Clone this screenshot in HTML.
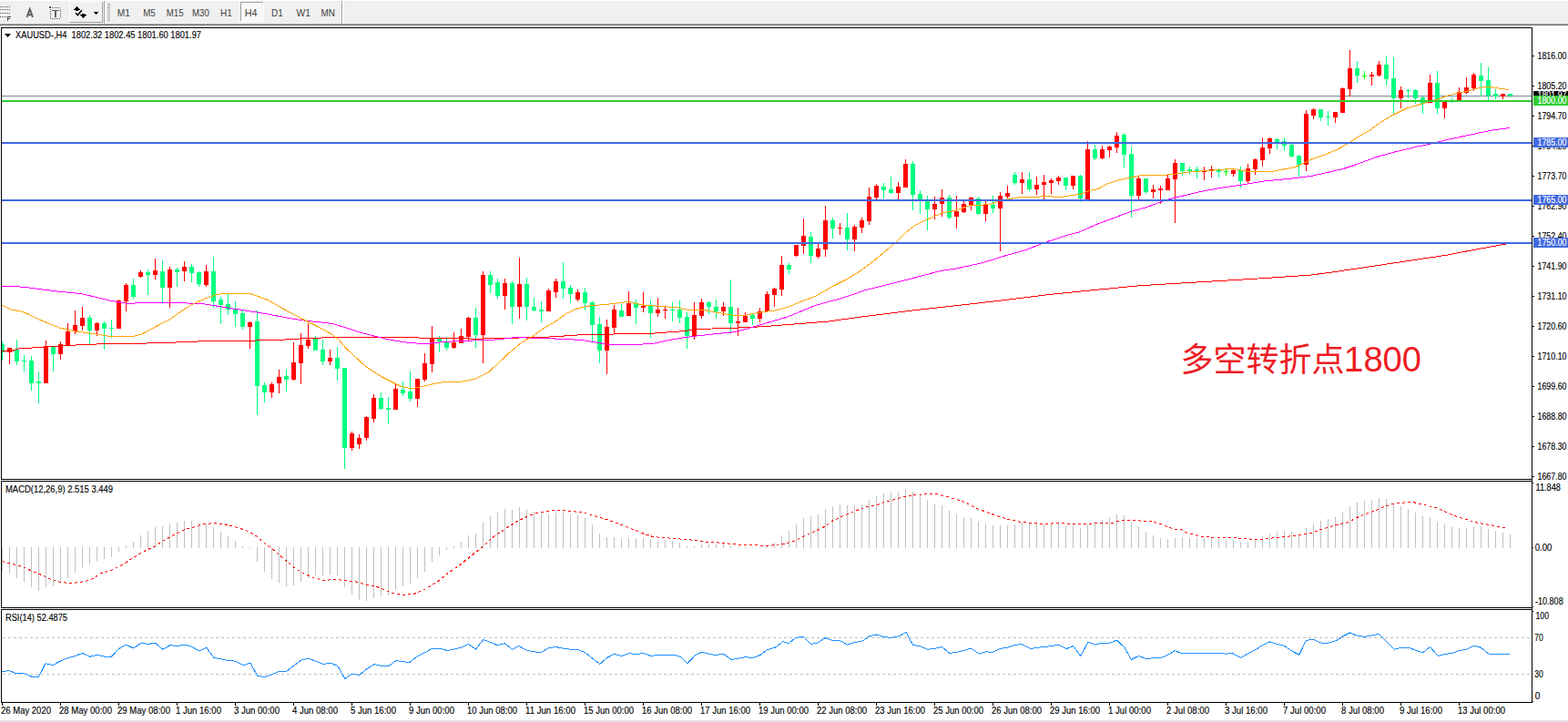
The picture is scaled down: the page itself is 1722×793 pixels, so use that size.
<!DOCTYPE html>
<html><head><meta charset="utf-8"><title>XAUUSD H4</title>
<style>html,body{margin:0;padding:0;background:#fff;}body{width:1722px;height:793px;overflow:hidden;}svg{display:block;}text{font-family:"Liberation Sans",sans-serif;stroke-width:0.14px;}</style>
</head><body>
<svg width="1722" height="793" viewBox="0 0 1722 793">
<rect x="0" y="0" width="1722" height="793" fill="#ffffff"/>
<g shape-rendering="crispEdges">
<rect x="0" y="1" width="1722" height="25" fill="#f0f0f0"/>
<rect x="0" y="26" width="1722" height="1" fill="#a9a9a9"/>
<rect x="0" y="27" width="1722" height="1" fill="#6b6b6b"/>
<rect x="0" y="7" width="1" height="1" fill="#555"/>
<rect x="2" y="7" width="1" height="1" fill="#555"/>
<rect x="4" y="7" width="1" height="1" fill="#555"/>
<rect x="6" y="7" width="1" height="1" fill="#555"/>
<rect x="8" y="7" width="1" height="1" fill="#555"/>
<rect x="10" y="7" width="1" height="1" fill="#555"/>
<rect x="0" y="10" width="1" height="1" fill="#555"/>
<rect x="2" y="10" width="1" height="1" fill="#555"/>
<rect x="4" y="10" width="1" height="1" fill="#555"/>
<rect x="6" y="10" width="1" height="1" fill="#555"/>
<rect x="8" y="10" width="1" height="1" fill="#555"/>
<rect x="10" y="10" width="1" height="1" fill="#555"/>
<rect x="0" y="14" width="1" height="1" fill="#555"/>
<rect x="2" y="14" width="1" height="1" fill="#555"/>
<rect x="4" y="14" width="1" height="1" fill="#555"/>
<rect x="6" y="14" width="1" height="1" fill="#555"/>
<rect x="8" y="14" width="1" height="1" fill="#555"/>
<rect x="10" y="14" width="1" height="1" fill="#555"/>
<rect x="0" y="18" width="1" height="1" fill="#555"/>
<rect x="2" y="18" width="1" height="1" fill="#555"/>
<rect x="4" y="18" width="1" height="1" fill="#555"/>
<rect x="6" y="18" width="1" height="1" fill="#555"/>
<path d="M8 18h4v1h-3v1h2v1h-2v2h-1z" fill="#4a4a4a"/>
<rect x="55" y="8" width="1" height="1" fill="#555"/>
<rect x="55" y="20" width="1" height="1" fill="#555"/>
<rect x="57" y="8" width="1" height="1" fill="#555"/>
<rect x="57" y="20" width="1" height="1" fill="#555"/>
<rect x="59" y="8" width="1" height="1" fill="#555"/>
<rect x="59" y="20" width="1" height="1" fill="#555"/>
<rect x="61" y="8" width="1" height="1" fill="#555"/>
<rect x="61" y="20" width="1" height="1" fill="#555"/>
<rect x="63" y="8" width="1" height="1" fill="#555"/>
<rect x="63" y="20" width="1" height="1" fill="#555"/>
<rect x="65" y="8" width="1" height="1" fill="#555"/>
<rect x="65" y="20" width="1" height="1" fill="#555"/>
<rect x="55" y="10" width="1" height="1" fill="#555"/>
<rect x="66" y="10" width="1" height="1" fill="#555"/>
<rect x="55" y="12" width="1" height="1" fill="#555"/>
<rect x="66" y="12" width="1" height="1" fill="#555"/>
<rect x="55" y="14" width="1" height="1" fill="#555"/>
<rect x="66" y="14" width="1" height="1" fill="#555"/>
<rect x="55" y="16" width="1" height="1" fill="#555"/>
<rect x="66" y="16" width="1" height="1" fill="#555"/>
<rect x="55" y="18" width="1" height="1" fill="#555"/>
<rect x="66" y="18" width="1" height="1" fill="#555"/>
<rect x="54" y="7" width="2" height="2" fill="#555"/>
<rect x="57" y="11" width="8" height="1" fill="#606060"/>
<rect x="60" y="11" width="2" height="8" fill="#606060"/>
<rect x="76" y="2" width="37" height="1" fill="#ffffff"/>
<rect x="76" y="2" width="1" height="23" fill="#ffffff"/>
<rect x="112" y="2" width="1" height="23" fill="#a0a0a0"/>
<rect x="76" y="24" width="37" height="1" fill="#a0a0a0"/>
<rect x="114" y="1" width="1" height="25" fill="#a0a0a0"/>
<rect x="115" y="1" width="1" height="25" fill="#ffffff"/>
<rect x="118" y="4" width="3" height="1" fill="#a6a6a6"/>
<rect x="118" y="6" width="3" height="1" fill="#a6a6a6"/>
<rect x="118" y="8" width="3" height="1" fill="#a6a6a6"/>
<rect x="118" y="10" width="3" height="1" fill="#a6a6a6"/>
<rect x="118" y="12" width="3" height="1" fill="#a6a6a6"/>
<rect x="118" y="14" width="3" height="1" fill="#a6a6a6"/>
<rect x="118" y="16" width="3" height="1" fill="#a6a6a6"/>
<rect x="118" y="18" width="3" height="1" fill="#a6a6a6"/>
<rect x="118" y="20" width="3" height="1" fill="#a6a6a6"/>
<rect x="118" y="22" width="3" height="1" fill="#a6a6a6"/>
<path d="M103 13h5v1h-1v1h-1v1h-1v-1h-1v-1h-1z" fill="#000"/>
<rect x="264" y="2" width="26" height="22" fill="#f8f8f8"/>
<rect x="264" y="2" width="26" height="1" fill="#a0a0a0"/>
<rect x="264" y="2" width="1" height="22" fill="#a0a0a0"/>
<rect x="289" y="2" width="1" height="22" fill="#ffffff"/>
<rect x="264" y="23" width="26" height="1" fill="#ffffff"/>
<rect x="375" y="1" width="1" height="25" fill="#a0a0a0"/>
<rect x="376" y="1" width="1" height="25" fill="#ffffff"/>
</g>
<g shape-rendering="crispEdges" fill="#000">
<rect x="84" y="7" width="1" height="1"/>
<rect x="83" y="8" width="3" height="1"/>
<rect x="82" y="9" width="5" height="1"/>
<rect x="81" y="10" width="7" height="1"/>
<rect x="83" y="11" width="3" height="1"/>
<rect x="90" y="15" width="3" height="1"/>
<rect x="88" y="16" width="7" height="1"/>
<rect x="89" y="17" width="5" height="1"/>
<rect x="90" y="18" width="3" height="1"/>
<rect x="91" y="19" width="1" height="1"/>
</g>
<path d="M83 14.3L85.4 16.6L89.8 11.3" fill="none" stroke="#000" stroke-width="1.5"/>
<path d="M29.5 18.9L32.75 10.1L36 18.9M30.6 16.2H34.9" fill="none" stroke="#606060" stroke-width="1.9"/>
<text x="128.8" y="17.8" font-size="10.4" fill="#404040" textLength="14.0" lengthAdjust="spacingAndGlyphs">M1</text>
<text x="157.2" y="17.8" font-size="10.4" fill="#404040" textLength="13.5" lengthAdjust="spacingAndGlyphs">M5</text>
<text x="182.8" y="17.8" font-size="10.4" fill="#404040" textLength="18.7" lengthAdjust="spacingAndGlyphs">M15</text>
<text x="211.0" y="17.8" font-size="10.4" fill="#404040" textLength="18.8" lengthAdjust="spacingAndGlyphs">M30</text>
<text x="242.0" y="17.8" font-size="10.4" fill="#404040" textLength="12.9" lengthAdjust="spacingAndGlyphs">H1</text>
<text x="268.8" y="17.8" font-size="10.4" fill="#404040" textLength="13.7" lengthAdjust="spacingAndGlyphs">H4</text>
<text x="298.1" y="17.8" font-size="10.4" fill="#404040" textLength="12.7" lengthAdjust="spacingAndGlyphs">D1</text>
<text x="325.5" y="17.8" font-size="10.4" fill="#404040" textLength="15.4" lengthAdjust="spacingAndGlyphs">W1</text>
<text x="352.5" y="17.8" font-size="10.4" fill="#404040" textLength="15.4" lengthAdjust="spacingAndGlyphs">MN</text>
<g shape-rendering="crispEdges" fill="none" stroke="#000" stroke-width="1">
<path d="M1.5 30.5H1682.5V526.5H1.5Z"/>
<path d="M1.5 528.5H1682.5V667.5H1.5Z"/>
<path d="M1.5 669.5H1682.5V771.5H1.5Z"/>
</g>
<rect x="0" y="791" width="1722" height="2" fill="#e3e3e3" shape-rendering="crispEdges"/>
<g shape-rendering="crispEdges">
<rect x="2" y="105" width="1680" height="1" fill="#778899"/>
<rect x="2" y="375" width="1" height="21" fill="#00FF7F"/>
<rect x="2" y="378" width="3" height="9" fill="#00FF7F"/>
<rect x="10" y="382" width="1" height="18" fill="#FF0000"/>
<rect x="8" y="382" width="5" height="5" fill="#FF0000"/>
<rect x="18" y="373" width="1" height="28" fill="#00FF7F"/>
<rect x="16" y="384" width="5" height="13" fill="#00FF7F"/>
<rect x="26" y="390" width="1" height="18" fill="#00FF7F"/>
<rect x="24" y="396" width="5" height="1" fill="#00FF7F"/>
<rect x="34" y="391" width="1" height="38" fill="#00FF7F"/>
<rect x="32" y="396" width="5" height="25" fill="#00FF7F"/>
<rect x="42" y="408" width="1" height="35" fill="#00FF7F"/>
<rect x="40" y="419" width="5" height="2" fill="#00FF7F"/>
<rect x="50" y="374" width="1" height="47" fill="#FF0000"/>
<rect x="48" y="380" width="5" height="41" fill="#FF0000"/>
<rect x="58" y="381" width="1" height="27" fill="#00FF7F"/>
<rect x="56" y="381" width="5" height="8" fill="#00FF7F"/>
<rect x="66" y="375" width="1" height="20" fill="#FF0000"/>
<rect x="64" y="378" width="5" height="11" fill="#FF0000"/>
<rect x="74" y="355" width="1" height="24" fill="#FF0000"/>
<rect x="72" y="364" width="5" height="15" fill="#FF0000"/>
<rect x="82" y="341" width="1" height="26" fill="#FF0000"/>
<rect x="80" y="357" width="5" height="7" fill="#FF0000"/>
<rect x="90" y="337" width="1" height="26" fill="#FF0000"/>
<rect x="88" y="349" width="5" height="9" fill="#FF0000"/>
<rect x="98" y="346" width="1" height="32" fill="#00FF7F"/>
<rect x="96" y="349" width="5" height="14" fill="#00FF7F"/>
<rect x="106" y="354" width="1" height="15" fill="#FF0000"/>
<rect x="104" y="355" width="5" height="8" fill="#FF0000"/>
<rect x="114" y="353" width="1" height="31" fill="#00FF7F"/>
<rect x="112" y="355" width="5" height="6" fill="#00FF7F"/>
<rect x="122" y="351" width="1" height="20" fill="#00FF7F"/>
<rect x="120" y="360" width="5" height="1" fill="#00FF7F"/>
<rect x="130" y="329" width="1" height="32" fill="#FF0000"/>
<rect x="128" y="330" width="5" height="31" fill="#FF0000"/>
<rect x="138" y="311" width="1" height="31" fill="#FF0000"/>
<rect x="136" y="313" width="5" height="18" fill="#FF0000"/>
<rect x="146" y="306" width="1" height="22" fill="#00FF7F"/>
<rect x="144" y="313" width="5" height="13" fill="#00FF7F"/>
<rect x="154" y="297" width="1" height="8" fill="#FF0000"/>
<rect x="152" y="299" width="5" height="5" fill="#FF0000"/>
<rect x="162" y="296" width="1" height="28" fill="#00FF7F"/>
<rect x="160" y="299" width="5" height="3" fill="#00FF7F"/>
<rect x="170" y="284" width="1" height="23" fill="#FF0000"/>
<rect x="168" y="297" width="5" height="5" fill="#FF0000"/>
<rect x="178" y="286" width="1" height="46" fill="#00FF7F"/>
<rect x="176" y="298" width="5" height="18" fill="#00FF7F"/>
<rect x="186" y="293" width="1" height="45" fill="#FF0000"/>
<rect x="184" y="296" width="5" height="20" fill="#FF0000"/>
<rect x="194" y="294" width="1" height="21" fill="#00FF7F"/>
<rect x="192" y="296" width="5" height="3" fill="#00FF7F"/>
<rect x="202" y="287" width="1" height="22" fill="#FF0000"/>
<rect x="200" y="293" width="5" height="5" fill="#FF0000"/>
<rect x="210" y="290" width="1" height="20" fill="#00FF7F"/>
<rect x="208" y="293" width="5" height="7" fill="#00FF7F"/>
<rect x="218" y="298" width="1" height="17" fill="#00FF7F"/>
<rect x="216" y="299" width="5" height="13" fill="#00FF7F"/>
<rect x="226" y="291" width="1" height="24" fill="#FF0000"/>
<rect x="224" y="298" width="5" height="15" fill="#FF0000"/>
<rect x="234" y="282" width="1" height="56" fill="#00FF7F"/>
<rect x="232" y="298" width="5" height="33" fill="#00FF7F"/>
<rect x="242" y="326" width="1" height="30" fill="#00FF7F"/>
<rect x="240" y="329" width="5" height="6" fill="#00FF7F"/>
<rect x="250" y="323" width="1" height="23" fill="#00FF7F"/>
<rect x="248" y="334" width="5" height="6" fill="#00FF7F"/>
<rect x="258" y="331" width="1" height="28" fill="#00FF7F"/>
<rect x="256" y="340" width="5" height="5" fill="#00FF7F"/>
<rect x="266" y="341" width="1" height="21" fill="#00FF7F"/>
<rect x="264" y="344" width="5" height="15" fill="#00FF7F"/>
<rect x="274" y="353" width="1" height="30" fill="#FF0000"/>
<rect x="272" y="354" width="5" height="5" fill="#FF0000"/>
<rect x="282" y="341" width="1" height="115" fill="#00FF7F"/>
<rect x="280" y="353" width="5" height="71" fill="#00FF7F"/>
<rect x="290" y="420" width="1" height="22" fill="#00FF7F"/>
<rect x="288" y="423" width="5" height="8" fill="#00FF7F"/>
<rect x="298" y="420" width="1" height="17" fill="#FF0000"/>
<rect x="296" y="422" width="5" height="9" fill="#FF0000"/>
<rect x="306" y="406" width="1" height="26" fill="#FF0000"/>
<rect x="304" y="414" width="5" height="7" fill="#FF0000"/>
<rect x="314" y="406" width="1" height="24" fill="#00FF7F"/>
<rect x="312" y="413" width="5" height="4" fill="#00FF7F"/>
<rect x="322" y="376" width="1" height="42" fill="#FF0000"/>
<rect x="320" y="398" width="5" height="19" fill="#FF0000"/>
<rect x="330" y="366" width="1" height="56" fill="#FF0000"/>
<rect x="328" y="379" width="5" height="20" fill="#FF0000"/>
<rect x="338" y="355" width="1" height="28" fill="#FF0000"/>
<rect x="336" y="373" width="5" height="7" fill="#FF0000"/>
<rect x="346" y="369" width="1" height="16" fill="#00FF7F"/>
<rect x="344" y="372" width="5" height="13" fill="#00FF7F"/>
<rect x="354" y="373" width="1" height="28" fill="#00FF7F"/>
<rect x="352" y="384" width="5" height="13" fill="#00FF7F"/>
<rect x="362" y="384" width="1" height="17" fill="#FF0000"/>
<rect x="360" y="393" width="5" height="4" fill="#FF0000"/>
<rect x="370" y="381" width="1" height="37" fill="#00FF7F"/>
<rect x="368" y="393" width="5" height="12" fill="#00FF7F"/>
<rect x="378" y="404" width="1" height="111" fill="#00FF7F"/>
<rect x="376" y="404" width="5" height="88" fill="#00FF7F"/>
<rect x="386" y="474" width="1" height="21" fill="#FF0000"/>
<rect x="384" y="476" width="5" height="16" fill="#FF0000"/>
<rect x="394" y="477" width="1" height="16" fill="#FF0000"/>
<rect x="392" y="481" width="5" height="7" fill="#FF0000"/>
<rect x="402" y="457" width="1" height="27" fill="#FF0000"/>
<rect x="400" y="458" width="5" height="23" fill="#FF0000"/>
<rect x="410" y="433" width="1" height="31" fill="#FF0000"/>
<rect x="408" y="437" width="5" height="23" fill="#FF0000"/>
<rect x="418" y="431" width="1" height="19" fill="#00FF7F"/>
<rect x="416" y="437" width="5" height="12" fill="#00FF7F"/>
<rect x="426" y="436" width="1" height="30" fill="#00FF7F"/>
<rect x="424" y="448" width="5" height="2" fill="#00FF7F"/>
<rect x="434" y="422" width="1" height="28" fill="#FF0000"/>
<rect x="432" y="427" width="5" height="23" fill="#FF0000"/>
<rect x="442" y="419" width="1" height="16" fill="#00FF7F"/>
<rect x="440" y="428" width="5" height="4" fill="#00FF7F"/>
<rect x="450" y="408" width="1" height="33" fill="#00FF7F"/>
<rect x="448" y="430" width="5" height="8" fill="#00FF7F"/>
<rect x="458" y="416" width="1" height="31" fill="#FF0000"/>
<rect x="456" y="416" width="5" height="22" fill="#FF0000"/>
<rect x="466" y="388" width="1" height="31" fill="#FF0000"/>
<rect x="464" y="399" width="5" height="18" fill="#FF0000"/>
<rect x="474" y="358" width="1" height="51" fill="#FF0000"/>
<rect x="472" y="372" width="5" height="28" fill="#FF0000"/>
<rect x="482" y="369" width="1" height="18" fill="#00FF7F"/>
<rect x="480" y="372" width="5" height="3" fill="#00FF7F"/>
<rect x="490" y="370" width="1" height="15" fill="#00FF7F"/>
<rect x="488" y="376" width="5" height="6" fill="#00FF7F"/>
<rect x="498" y="365" width="1" height="18" fill="#FF0000"/>
<rect x="496" y="376" width="5" height="6" fill="#FF0000"/>
<rect x="506" y="361" width="1" height="16" fill="#FF0000"/>
<rect x="504" y="369" width="5" height="8" fill="#FF0000"/>
<rect x="514" y="348" width="1" height="26" fill="#FF0000"/>
<rect x="512" y="349" width="5" height="21" fill="#FF0000"/>
<rect x="522" y="338" width="1" height="44" fill="#00FF7F"/>
<rect x="520" y="349" width="5" height="19" fill="#00FF7F"/>
<rect x="530" y="298" width="1" height="101" fill="#FF0000"/>
<rect x="528" y="302" width="5" height="66" fill="#FF0000"/>
<rect x="538" y="298" width="1" height="24" fill="#00FF7F"/>
<rect x="536" y="302" width="5" height="11" fill="#00FF7F"/>
<rect x="546" y="306" width="1" height="22" fill="#00FF7F"/>
<rect x="544" y="310" width="5" height="15" fill="#00FF7F"/>
<rect x="554" y="306" width="1" height="34" fill="#FF0000"/>
<rect x="552" y="311" width="5" height="14" fill="#FF0000"/>
<rect x="562" y="309" width="1" height="47" fill="#00FF7F"/>
<rect x="560" y="311" width="5" height="26" fill="#00FF7F"/>
<rect x="570" y="283" width="1" height="67" fill="#FF0000"/>
<rect x="568" y="312" width="5" height="25" fill="#FF0000"/>
<rect x="578" y="305" width="1" height="47" fill="#00FF7F"/>
<rect x="576" y="312" width="5" height="25" fill="#00FF7F"/>
<rect x="586" y="327" width="1" height="15" fill="#00FF7F"/>
<rect x="584" y="337" width="5" height="4" fill="#00FF7F"/>
<rect x="594" y="331" width="1" height="23" fill="#00FF7F"/>
<rect x="592" y="340" width="5" height="2" fill="#00FF7F"/>
<rect x="602" y="317" width="1" height="25" fill="#FF0000"/>
<rect x="600" y="319" width="5" height="23" fill="#FF0000"/>
<rect x="610" y="306" width="1" height="21" fill="#FF0000"/>
<rect x="608" y="309" width="5" height="12" fill="#FF0000"/>
<rect x="618" y="288" width="1" height="40" fill="#00FF7F"/>
<rect x="616" y="309" width="5" height="8" fill="#00FF7F"/>
<rect x="626" y="313" width="1" height="20" fill="#00FF7F"/>
<rect x="624" y="316" width="5" height="7" fill="#00FF7F"/>
<rect x="634" y="318" width="1" height="13" fill="#FF0000"/>
<rect x="632" y="321" width="5" height="8" fill="#FF0000"/>
<rect x="642" y="316" width="1" height="25" fill="#00FF7F"/>
<rect x="640" y="321" width="5" height="12" fill="#00FF7F"/>
<rect x="650" y="331" width="1" height="44" fill="#00FF7F"/>
<rect x="648" y="332" width="5" height="25" fill="#00FF7F"/>
<rect x="658" y="348" width="1" height="51" fill="#00FF7F"/>
<rect x="656" y="356" width="5" height="29" fill="#00FF7F"/>
<rect x="666" y="351" width="1" height="60" fill="#FF0000"/>
<rect x="664" y="359" width="5" height="26" fill="#FF0000"/>
<rect x="674" y="335" width="1" height="32" fill="#FF0000"/>
<rect x="672" y="340" width="5" height="20" fill="#FF0000"/>
<rect x="682" y="334" width="1" height="14" fill="#00FF7F"/>
<rect x="680" y="341" width="5" height="7" fill="#00FF7F"/>
<rect x="690" y="320" width="1" height="27" fill="#FF0000"/>
<rect x="688" y="333" width="5" height="14" fill="#FF0000"/>
<rect x="698" y="329" width="1" height="27" fill="#00FF7F"/>
<rect x="696" y="333" width="5" height="5" fill="#00FF7F"/>
<rect x="706" y="321" width="1" height="22" fill="#FF0000"/>
<rect x="704" y="336" width="5" height="2" fill="#FF0000"/>
<rect x="714" y="329" width="1" height="42" fill="#00FF7F"/>
<rect x="712" y="335" width="5" height="9" fill="#00FF7F"/>
<rect x="722" y="327" width="1" height="21" fill="#FF0000"/>
<rect x="720" y="340" width="5" height="4" fill="#FF0000"/>
<rect x="730" y="336" width="1" height="14" fill="#FF0000"/>
<rect x="728" y="340" width="5" height="1" fill="#FF0000"/>
<rect x="738" y="332" width="1" height="21" fill="#00FF7F"/>
<rect x="736" y="340" width="5" height="1" fill="#00FF7F"/>
<rect x="746" y="330" width="1" height="25" fill="#00FF7F"/>
<rect x="744" y="340" width="5" height="9" fill="#00FF7F"/>
<rect x="754" y="343" width="1" height="40" fill="#00FF7F"/>
<rect x="752" y="348" width="5" height="21" fill="#00FF7F"/>
<rect x="762" y="332" width="1" height="41" fill="#FF0000"/>
<rect x="760" y="346" width="5" height="23" fill="#FF0000"/>
<rect x="770" y="328" width="1" height="22" fill="#FF0000"/>
<rect x="768" y="332" width="5" height="15" fill="#FF0000"/>
<rect x="778" y="331" width="1" height="14" fill="#00FF7F"/>
<rect x="776" y="332" width="5" height="5" fill="#00FF7F"/>
<rect x="786" y="329" width="1" height="21" fill="#00FF7F"/>
<rect x="784" y="337" width="5" height="5" fill="#00FF7F"/>
<rect x="794" y="332" width="1" height="15" fill="#FF0000"/>
<rect x="792" y="337" width="5" height="5" fill="#FF0000"/>
<rect x="802" y="307" width="1" height="58" fill="#00FF7F"/>
<rect x="800" y="337" width="5" height="18" fill="#00FF7F"/>
<rect x="810" y="338" width="1" height="31" fill="#FF0000"/>
<rect x="808" y="353" width="5" height="2" fill="#FF0000"/>
<rect x="818" y="343" width="1" height="11" fill="#FF0000"/>
<rect x="816" y="347" width="5" height="7" fill="#FF0000"/>
<rect x="826" y="345" width="1" height="12" fill="#00FF7F"/>
<rect x="824" y="346" width="5" height="4" fill="#00FF7F"/>
<rect x="834" y="338" width="1" height="16" fill="#FF0000"/>
<rect x="832" y="342" width="5" height="8" fill="#FF0000"/>
<rect x="842" y="320" width="1" height="22" fill="#FF0000"/>
<rect x="840" y="323" width="5" height="19" fill="#FF0000"/>
<rect x="850" y="316" width="1" height="21" fill="#FF0000"/>
<rect x="848" y="317" width="5" height="7" fill="#FF0000"/>
<rect x="858" y="281" width="1" height="44" fill="#FF0000"/>
<rect x="856" y="291" width="5" height="27" fill="#FF0000"/>
<rect x="866" y="289" width="1" height="12" fill="#00FF7F"/>
<rect x="864" y="291" width="5" height="5" fill="#00FF7F"/>
<rect x="874" y="269" width="1" height="13" fill="#FF0000"/>
<rect x="872" y="269" width="5" height="12" fill="#FF0000"/>
<rect x="882" y="240" width="1" height="39" fill="#FF0000"/>
<rect x="880" y="259" width="5" height="11" fill="#FF0000"/>
<rect x="890" y="255" width="1" height="34" fill="#00FF7F"/>
<rect x="888" y="260" width="5" height="21" fill="#00FF7F"/>
<rect x="898" y="268" width="1" height="16" fill="#FF0000"/>
<rect x="896" y="273" width="5" height="9" fill="#FF0000"/>
<rect x="906" y="226" width="1" height="56" fill="#FF0000"/>
<rect x="904" y="242" width="5" height="32" fill="#FF0000"/>
<rect x="914" y="239" width="1" height="23" fill="#00FF7F"/>
<rect x="912" y="242" width="5" height="9" fill="#00FF7F"/>
<rect x="922" y="245" width="1" height="13" fill="#FF0000"/>
<rect x="920" y="250" width="5" height="1" fill="#FF0000"/>
<rect x="930" y="234" width="1" height="41" fill="#00FF7F"/>
<rect x="928" y="250" width="5" height="13" fill="#00FF7F"/>
<rect x="938" y="247" width="1" height="29" fill="#FF0000"/>
<rect x="936" y="249" width="5" height="14" fill="#FF0000"/>
<rect x="946" y="239" width="1" height="17" fill="#FF0000"/>
<rect x="944" y="242" width="5" height="8" fill="#FF0000"/>
<rect x="954" y="206" width="1" height="41" fill="#FF0000"/>
<rect x="952" y="216" width="5" height="27" fill="#FF0000"/>
<rect x="962" y="202" width="1" height="17" fill="#FF0000"/>
<rect x="960" y="204" width="5" height="13" fill="#FF0000"/>
<rect x="970" y="201" width="1" height="17" fill="#00FF7F"/>
<rect x="968" y="205" width="5" height="4" fill="#00FF7F"/>
<rect x="978" y="194" width="1" height="19" fill="#00FF7F"/>
<rect x="976" y="208" width="5" height="4" fill="#00FF7F"/>
<rect x="986" y="200" width="1" height="19" fill="#FF0000"/>
<rect x="984" y="205" width="5" height="7" fill="#FF0000"/>
<rect x="994" y="175" width="1" height="31" fill="#FF0000"/>
<rect x="992" y="180" width="5" height="26" fill="#FF0000"/>
<rect x="1002" y="177" width="1" height="54" fill="#00FF7F"/>
<rect x="1000" y="180" width="5" height="34" fill="#00FF7F"/>
<rect x="1010" y="209" width="1" height="26" fill="#00FF7F"/>
<rect x="1008" y="213" width="5" height="6" fill="#00FF7F"/>
<rect x="1018" y="215" width="1" height="38" fill="#00FF7F"/>
<rect x="1016" y="220" width="5" height="10" fill="#00FF7F"/>
<rect x="1026" y="216" width="1" height="25" fill="#FF0000"/>
<rect x="1024" y="224" width="5" height="6" fill="#FF0000"/>
<rect x="1034" y="208" width="1" height="30" fill="#FF0000"/>
<rect x="1032" y="217" width="5" height="7" fill="#FF0000"/>
<rect x="1042" y="214" width="1" height="27" fill="#00FF7F"/>
<rect x="1040" y="217" width="5" height="22" fill="#00FF7F"/>
<rect x="1050" y="215" width="1" height="36" fill="#FF0000"/>
<rect x="1048" y="232" width="5" height="6" fill="#FF0000"/>
<rect x="1058" y="221" width="1" height="13" fill="#FF0000"/>
<rect x="1056" y="224" width="5" height="9" fill="#FF0000"/>
<rect x="1066" y="216" width="1" height="15" fill="#FF0000"/>
<rect x="1064" y="217" width="5" height="8" fill="#FF0000"/>
<rect x="1074" y="216" width="1" height="20" fill="#00FF7F"/>
<rect x="1072" y="218" width="5" height="17" fill="#00FF7F"/>
<rect x="1082" y="221" width="1" height="22" fill="#FF0000"/>
<rect x="1080" y="225" width="5" height="10" fill="#FF0000"/>
<rect x="1090" y="215" width="1" height="19" fill="#00FF7F"/>
<rect x="1088" y="225" width="5" height="4" fill="#00FF7F"/>
<rect x="1098" y="211" width="1" height="65" fill="#FF0000"/>
<rect x="1096" y="215" width="5" height="14" fill="#FF0000"/>
<rect x="1106" y="204" width="1" height="15" fill="#FF0000"/>
<rect x="1104" y="212" width="5" height="4" fill="#FF0000"/>
<rect x="1114" y="189" width="1" height="14" fill="#00FF7F"/>
<rect x="1112" y="192" width="5" height="9" fill="#00FF7F"/>
<rect x="1122" y="189" width="1" height="24" fill="#FF0000"/>
<rect x="1120" y="197" width="5" height="4" fill="#FF0000"/>
<rect x="1130" y="189" width="1" height="21" fill="#00FF7F"/>
<rect x="1128" y="197" width="5" height="11" fill="#00FF7F"/>
<rect x="1138" y="194" width="1" height="20" fill="#FF0000"/>
<rect x="1136" y="203" width="5" height="5" fill="#FF0000"/>
<rect x="1146" y="192" width="1" height="27" fill="#FF0000"/>
<rect x="1144" y="200" width="5" height="3" fill="#FF0000"/>
<rect x="1154" y="196" width="1" height="17" fill="#FF0000"/>
<rect x="1152" y="198" width="5" height="3" fill="#FF0000"/>
<rect x="1162" y="193" width="1" height="10" fill="#FF0000"/>
<rect x="1160" y="195" width="5" height="4" fill="#FF0000"/>
<rect x="1170" y="195" width="1" height="14" fill="#00FF7F"/>
<rect x="1168" y="195" width="5" height="9" fill="#00FF7F"/>
<rect x="1178" y="193" width="1" height="15" fill="#FF0000"/>
<rect x="1176" y="193" width="5" height="11" fill="#FF0000"/>
<rect x="1186" y="192" width="1" height="30" fill="#00FF7F"/>
<rect x="1184" y="193" width="5" height="25" fill="#00FF7F"/>
<rect x="1194" y="155" width="1" height="64" fill="#FF0000"/>
<rect x="1192" y="164" width="5" height="55" fill="#FF0000"/>
<rect x="1202" y="159" width="1" height="17" fill="#00FF7F"/>
<rect x="1200" y="164" width="5" height="10" fill="#00FF7F"/>
<rect x="1210" y="160" width="1" height="15" fill="#FF0000"/>
<rect x="1208" y="164" width="5" height="10" fill="#FF0000"/>
<rect x="1218" y="160" width="1" height="13" fill="#FF0000"/>
<rect x="1216" y="161" width="5" height="4" fill="#FF0000"/>
<rect x="1226" y="145" width="1" height="23" fill="#FF0000"/>
<rect x="1224" y="149" width="5" height="13" fill="#FF0000"/>
<rect x="1234" y="146" width="1" height="38" fill="#00FF7F"/>
<rect x="1232" y="148" width="5" height="22" fill="#00FF7F"/>
<rect x="1242" y="161" width="1" height="78" fill="#00FF7F"/>
<rect x="1240" y="169" width="5" height="46" fill="#00FF7F"/>
<rect x="1250" y="194" width="1" height="25" fill="#FF0000"/>
<rect x="1248" y="196" width="5" height="19" fill="#FF0000"/>
<rect x="1258" y="196" width="1" height="17" fill="#00FF7F"/>
<rect x="1256" y="196" width="5" height="15" fill="#00FF7F"/>
<rect x="1266" y="203" width="1" height="15" fill="#FF0000"/>
<rect x="1264" y="208" width="5" height="3" fill="#FF0000"/>
<rect x="1274" y="204" width="1" height="20" fill="#FF0000"/>
<rect x="1272" y="207" width="5" height="2" fill="#FF0000"/>
<rect x="1282" y="191" width="1" height="18" fill="#FF0000"/>
<rect x="1280" y="196" width="5" height="13" fill="#FF0000"/>
<rect x="1290" y="175" width="1" height="70" fill="#FF0000"/>
<rect x="1288" y="179" width="5" height="18" fill="#FF0000"/>
<rect x="1298" y="179" width="1" height="14" fill="#00FF7F"/>
<rect x="1296" y="179" width="5" height="9" fill="#00FF7F"/>
<rect x="1306" y="183" width="1" height="9" fill="#00FF7F"/>
<rect x="1304" y="186" width="5" height="2" fill="#00FF7F"/>
<rect x="1314" y="183" width="1" height="13" fill="#00FF7F"/>
<rect x="1312" y="186" width="5" height="2" fill="#00FF7F"/>
<rect x="1322" y="183" width="1" height="15" fill="#FF0000"/>
<rect x="1320" y="187" width="5" height="2" fill="#FF0000"/>
<rect x="1330" y="182" width="1" height="13" fill="#FF0000"/>
<rect x="1328" y="186" width="5" height="2" fill="#FF0000"/>
<rect x="1338" y="185" width="1" height="10" fill="#00FF7F"/>
<rect x="1336" y="186" width="5" height="3" fill="#00FF7F"/>
<rect x="1346" y="185" width="1" height="8" fill="#00FF00"/>
<rect x="1344" y="188" width="5" height="1" fill="#00FF00"/>
<rect x="1354" y="186" width="1" height="8" fill="#FF0000"/>
<rect x="1352" y="187" width="5" height="4" fill="#FF0000"/>
<rect x="1362" y="183" width="1" height="23" fill="#00FF7F"/>
<rect x="1360" y="187" width="5" height="12" fill="#00FF7F"/>
<rect x="1370" y="180" width="1" height="21" fill="#FF0000"/>
<rect x="1368" y="185" width="5" height="14" fill="#FF0000"/>
<rect x="1378" y="174" width="1" height="18" fill="#FF0000"/>
<rect x="1376" y="175" width="5" height="11" fill="#FF0000"/>
<rect x="1386" y="151" width="1" height="32" fill="#FF0000"/>
<rect x="1384" y="162" width="5" height="14" fill="#FF0000"/>
<rect x="1394" y="151" width="1" height="18" fill="#FF0000"/>
<rect x="1392" y="152" width="5" height="11" fill="#FF0000"/>
<rect x="1402" y="152" width="1" height="12" fill="#00FF7F"/>
<rect x="1400" y="153" width="5" height="4" fill="#00FF7F"/>
<rect x="1410" y="151" width="1" height="15" fill="#00FF7F"/>
<rect x="1408" y="155" width="5" height="5" fill="#00FF7F"/>
<rect x="1418" y="158" width="1" height="15" fill="#00FF7F"/>
<rect x="1416" y="159" width="5" height="13" fill="#00FF7F"/>
<rect x="1426" y="170" width="1" height="24" fill="#00FF7F"/>
<rect x="1424" y="171" width="5" height="10" fill="#00FF7F"/>
<rect x="1434" y="121" width="1" height="67" fill="#FF0000"/>
<rect x="1432" y="125" width="5" height="56" fill="#FF0000"/>
<rect x="1442" y="119" width="1" height="12" fill="#FF0000"/>
<rect x="1440" y="120" width="5" height="7" fill="#FF0000"/>
<rect x="1450" y="120" width="1" height="13" fill="#00FF7F"/>
<rect x="1448" y="120" width="5" height="9" fill="#00FF7F"/>
<rect x="1458" y="122" width="1" height="16" fill="#00FF7F"/>
<rect x="1456" y="128" width="5" height="1" fill="#00FF7F"/>
<rect x="1466" y="123" width="1" height="12" fill="#FF0000"/>
<rect x="1464" y="123" width="5" height="6" fill="#FF0000"/>
<rect x="1474" y="96" width="1" height="28" fill="#FF0000"/>
<rect x="1472" y="97" width="5" height="27" fill="#FF0000"/>
<rect x="1482" y="55" width="1" height="51" fill="#FF0000"/>
<rect x="1480" y="75" width="5" height="23" fill="#FF0000"/>
<rect x="1490" y="67" width="1" height="24" fill="#00FF7F"/>
<rect x="1488" y="75" width="5" height="8" fill="#00FF7F"/>
<rect x="1498" y="78" width="1" height="9" fill="#00FF00"/>
<rect x="1496" y="83" width="5" height="1" fill="#00FF00"/>
<rect x="1506" y="79" width="1" height="15" fill="#FF0000"/>
<rect x="1504" y="82" width="5" height="2" fill="#FF0000"/>
<rect x="1514" y="67" width="1" height="17" fill="#FF0000"/>
<rect x="1512" y="71" width="5" height="12" fill="#FF0000"/>
<rect x="1522" y="61" width="1" height="33" fill="#00FF7F"/>
<rect x="1520" y="71" width="5" height="16" fill="#00FF7F"/>
<rect x="1530" y="63" width="1" height="63" fill="#00FF7F"/>
<rect x="1528" y="86" width="5" height="22" fill="#00FF7F"/>
<rect x="1538" y="95" width="1" height="24" fill="#FF0000"/>
<rect x="1536" y="99" width="5" height="9" fill="#FF0000"/>
<rect x="1546" y="98" width="1" height="10" fill="#00FF7F"/>
<rect x="1544" y="99" width="5" height="1" fill="#00FF7F"/>
<rect x="1554" y="98" width="1" height="16" fill="#00FF7F"/>
<rect x="1552" y="99" width="5" height="9" fill="#00FF7F"/>
<rect x="1562" y="106" width="1" height="19" fill="#00FF7F"/>
<rect x="1560" y="107" width="5" height="7" fill="#00FF7F"/>
<rect x="1570" y="82" width="1" height="31" fill="#FF0000"/>
<rect x="1568" y="91" width="5" height="22" fill="#FF0000"/>
<rect x="1578" y="78" width="1" height="47" fill="#00FF7F"/>
<rect x="1576" y="91" width="5" height="28" fill="#00FF7F"/>
<rect x="1586" y="110" width="1" height="20" fill="#FF0000"/>
<rect x="1584" y="110" width="5" height="9" fill="#FF0000"/>
<rect x="1594" y="107" width="1" height="6" fill="#00FF7F"/>
<rect x="1592" y="110" width="5" height="1" fill="#00FF7F"/>
<rect x="1602" y="96" width="1" height="14" fill="#FF0000"/>
<rect x="1600" y="101" width="5" height="9" fill="#FF0000"/>
<rect x="1610" y="85" width="1" height="18" fill="#FF0000"/>
<rect x="1608" y="96" width="5" height="6" fill="#FF0000"/>
<rect x="1618" y="80" width="1" height="20" fill="#FF0000"/>
<rect x="1616" y="82" width="5" height="15" fill="#FF0000"/>
<rect x="1626" y="69" width="1" height="37" fill="#00FF7F"/>
<rect x="1624" y="83" width="5" height="6" fill="#00FF7F"/>
<rect x="1634" y="74" width="1" height="36" fill="#00FF7F"/>
<rect x="1632" y="88" width="5" height="17" fill="#00FF7F"/>
<rect x="1642" y="98" width="1" height="11" fill="#00FF7F"/>
<rect x="1640" y="103" width="5" height="3" fill="#00FF7F"/>
<rect x="1650" y="103" width="1" height="6" fill="#FF0000"/>
<rect x="1648" y="103" width="5" height="3" fill="#FF0000"/>
<rect x="1658" y="103" width="1" height="4" fill="#00FF7F"/>
<rect x="1656" y="103" width="5" height="2" fill="#00FF7F"/>
</g>
<polyline points="2.0,385.5 13.0,385.5 21.0,382.7 29.0,382.7 37.0,381.8 45.0,381.8 53.0,380.8 62.0,380.8 70.0,379.9 78.0,379.9 86.0,378.6 102.0,378.6 110.0,377.4 158.0,377.4 166.0,376.4 190.0,376.4 198.0,375.4 214.0,375.4 222.0,374.4 278.0,374.4 286.0,373.4 310.0,373.4 318.0,372.4 326.0,372.4 334.0,371.3 350.0,371.3 358.0,370.4 455.0,370.4 463.0,371.3 511.0,371.3 519.0,372.5 526.0,372.5 534.0,371.4 566.0,371.4 574.0,370.6 598.0,370.6 606.0,369.7 614.0,369.7 622.0,368.7 630.0,368.7 638.0,367.4 670.0,367.4 678.0,366.6 717.0,366.2 733.0,364.9 750.0,363.7 765.0,362.0 790.0,360.5 814.0,359.9 838.0,358.7 862.0,356.8 886.0,354.9 910.0,353.0 950.0,347.5 1000.0,341.2 1050.0,335.7 1100.0,330.0 1150.0,323.7 1200.0,318.7 1250.0,313.9 1290.0,311.4 1340.0,308.5 1390.0,305.5 1440.0,302.0 1465.0,298.7 1490.0,295.0 1540.0,287.5 1590.0,280.0 1625.0,273.2 1654.0,268.0" fill="none" stroke="#FF0000" stroke-width="1" shape-rendering="crispEdges" />
<polyline points="2.0,314.3 15.0,314.3 30.0,315.8 60.0,319.7 90.0,322.7 120.0,330.0 135.0,332.4 140.0,333.4 160.0,332.4 200.0,332.4 210.0,333.4 223.0,333.7 240.0,336.4 262.0,339.9 290.0,344.3 320.0,349.9 335.0,352.2 350.0,353.7 365.0,355.5 380.0,359.9 395.0,364.9 410.0,368.9 425.0,372.5 440.0,375.2 450.0,376.6 465.0,377.5 470.0,377.5 475.0,376.5 490.0,375.6 503.0,374.3 535.0,373.7 550.0,372.4 566.0,370.6 590.0,371.4 622.0,372.4 640.0,373.7 655.0,376.2 665.0,378.0 700.0,378.3 717.0,377.4 735.0,373.6 750.0,370.9 762.0,369.3 785.0,366.8 805.0,364.9 820.0,361.2 835.0,356.8 850.0,352.4 865.0,348.0 880.0,341.8 895.0,335.6 915.0,330.0 925.0,327.5 950.0,318.7 975.0,312.5 1000.0,306.2 1033.0,297.5 1050.0,295.0 1075.0,289.5 1090.0,285.5 1100.0,282.0 1125.0,275.0 1150.0,265.5 1175.0,257.5 1185.0,254.9 1205.0,246.2 1225.0,238.7 1242.0,232.4 1260.0,227.4 1275.0,221.5 1285.0,218.5 1300.0,214.9 1315.0,211.2 1340.0,206.4 1365.0,202.8 1390.0,198.7 1415.0,196.5 1440.0,193.4 1460.0,188.9 1475.0,185.5 1490.0,180.5 1510.0,173.0 1530.0,167.4 1555.0,161.2 1565.0,159.5 1590.0,153.3 1615.0,148.0 1640.0,142.7 1658.0,140.5" fill="none" stroke="#FF00FF" stroke-width="1" shape-rendering="crispEdges" />
<polyline points="2.0,334.9 12.0,340.0 25.0,342.4 45.0,351.8 65.0,359.9 80.0,363.6 100.0,366.1 120.0,369.3 147.0,369.3 155.0,367.4 170.0,359.3 187.0,350.5 200.0,341.3 210.0,334.9 225.0,328.0 238.0,323.4 247.0,322.4 275.0,322.4 285.0,326.2 295.0,329.9 310.0,338.7 322.0,344.9 335.0,351.8 350.0,359.3 365.0,367.4 372.0,373.0 380.0,382.5 390.0,391.8 400.0,401.2 410.0,408.0 420.0,414.3 430.0,419.3 440.0,424.3 450.0,426.4 455.0,426.2 462.0,424.9 475.0,421.8 487.0,419.6 505.0,419.6 515.0,417.6 522.0,416.1 537.0,408.4 550.0,396.2 560.0,386.8 572.0,376.8 585.0,369.3 597.0,360.6 610.0,353.1 622.0,344.4 632.0,339.4 642.0,336.9 650.0,335.6 662.0,334.7 675.0,333.5 690.0,331.2 697.0,333.1 705.0,334.7 712.0,335.6 730.0,336.6 745.0,338.0 755.0,340.3 775.0,340.9 790.0,343.7 800.0,345.6 810.0,346.6 817.0,346.6 825.0,344.9 840.0,342.4 850.0,341.2 865.0,337.4 880.0,331.2 895.0,325.6 915.0,314.3 930.0,306.8 945.0,297.4 960.0,286.2 975.0,273.7 985.0,264.9 995.0,254.9 1005.0,247.5 1015.0,242.4 1035.0,233.7 1050.0,231.2 1065.0,225.6 1075.0,225.6 1090.0,223.7 1097.0,220.6 1108.0,218.6 1120.0,216.6 1140.0,216.2 1150.0,215.3 1160.0,216.5 1165.0,216.5 1175.0,214.9 1187.0,213.2 1195.0,209.9 1205.0,207.8 1217.0,201.6 1230.0,197.4 1240.0,195.5 1250.0,193.2 1255.0,192.2 1280.0,192.2 1290.0,191.2 1300.0,189.9 1310.0,188.7 1325.0,187.4 1337.0,186.8 1345.0,186.0 1352.0,185.1 1360.0,186.6 1375.0,188.7 1397.0,188.4 1410.0,185.9 1422.0,183.7 1432.0,179.0 1442.0,174.3 1455.0,169.9 1467.0,164.9 1480.0,158.0 1492.0,150.0 1505.0,142.7 1515.0,135.0 1530.0,126.2 1545.0,118.7 1557.0,115.5 1567.0,112.4 1580.0,108.7 1590.0,104.9 1600.0,102.4 1615.0,99.3 1620.0,97.5 1627.0,96.2 1635.0,95.1 1645.0,96.9 1657.0,98.5" fill="none" stroke="#FFA500" stroke-width="1" shape-rendering="crispEdges" />
<g shape-rendering="crispEdges">
<rect x="2" y="110" width="1680" height="2" fill="#32CD32"/>
<rect x="2" y="156" width="1680" height="2" fill="#4169E1"/>
<rect x="2" y="219" width="1680" height="2" fill="#4169E1"/>
<rect x="2" y="266" width="1680" height="2" fill="#4169E1"/>
<rect x="1682" y="30" width="1" height="742" fill="#000"/>
<rect x="1683" y="61" width="2" height="1" fill="#000"/>
<rect x="1683" y="94" width="2" height="1" fill="#000"/>
<rect x="1683" y="127" width="2" height="1" fill="#000"/>
<rect x="1683" y="160" width="2" height="1" fill="#000"/>
<rect x="1683" y="193" width="2" height="1" fill="#000"/>
<rect x="1683" y="226" width="2" height="1" fill="#000"/>
<rect x="1683" y="259" width="2" height="1" fill="#000"/>
<rect x="1683" y="292" width="2" height="1" fill="#000"/>
<rect x="1683" y="325" width="2" height="1" fill="#000"/>
<rect x="1683" y="358" width="2" height="1" fill="#000"/>
<rect x="1683" y="391" width="2" height="1" fill="#000"/>
<rect x="1683" y="424" width="2" height="1" fill="#000"/>
<rect x="1683" y="457" width="2" height="1" fill="#000"/>
<rect x="1683" y="490" width="2" height="1" fill="#000"/>
<rect x="1683" y="523" width="2" height="1" fill="#000"/>
<rect x="1683" y="530" width="1" height="1" fill="#000"/>
<rect x="1683" y="601" width="1" height="1" fill="#000"/>
<rect x="1683" y="666" width="1" height="1" fill="#000"/>
<rect x="1683" y="671" width="1" height="1" fill="#000"/>
<rect x="1683" y="770" width="1" height="1" fill="#000"/>
</g>
<text x="1688.5" y="65" font-size="10.3" fill="#000" stroke="#000" textLength="32" lengthAdjust="spacingAndGlyphs">1816.00</text>
<text x="1688.5" y="98" font-size="10.3" fill="#000" stroke="#000" textLength="32" lengthAdjust="spacingAndGlyphs">1805.20</text>
<text x="1688.5" y="131" font-size="10.3" fill="#000" stroke="#000" textLength="32" lengthAdjust="spacingAndGlyphs">1794.70</text>
<text x="1688.5" y="164" font-size="10.3" fill="#000" stroke="#000" textLength="32" lengthAdjust="spacingAndGlyphs">1784.20</text>
<text x="1688.5" y="197" font-size="10.3" fill="#000" stroke="#000" textLength="32" lengthAdjust="spacingAndGlyphs">1773.70</text>
<text x="1688.5" y="230" font-size="10.3" fill="#000" stroke="#000" textLength="32" lengthAdjust="spacingAndGlyphs">1762.90</text>
<text x="1688.5" y="263" font-size="10.3" fill="#000" stroke="#000" textLength="32" lengthAdjust="spacingAndGlyphs">1752.40</text>
<text x="1688.5" y="296" font-size="10.3" fill="#000" stroke="#000" textLength="32" lengthAdjust="spacingAndGlyphs">1741.90</text>
<text x="1688.5" y="329" font-size="10.3" fill="#000" stroke="#000" textLength="32" lengthAdjust="spacingAndGlyphs">1731.10</text>
<text x="1688.5" y="362" font-size="10.3" fill="#000" stroke="#000" textLength="32" lengthAdjust="spacingAndGlyphs">1720.60</text>
<text x="1688.5" y="395" font-size="10.3" fill="#000" stroke="#000" textLength="32" lengthAdjust="spacingAndGlyphs">1710.10</text>
<text x="1688.5" y="428" font-size="10.3" fill="#000" stroke="#000" textLength="32" lengthAdjust="spacingAndGlyphs">1699.60</text>
<text x="1688.5" y="461" font-size="10.3" fill="#000" stroke="#000" textLength="32" lengthAdjust="spacingAndGlyphs">1688.80</text>
<text x="1688.5" y="494" font-size="10.3" fill="#000" stroke="#000" textLength="32" lengthAdjust="spacingAndGlyphs">1678.30</text>
<text x="1688.5" y="527" font-size="10.3" fill="#000" stroke="#000" textLength="32" lengthAdjust="spacingAndGlyphs">1667.80</text>
<g shape-rendering="crispEdges">
<rect x="1684" y="100" width="38" height="11" fill="#000"/>
</g>
<text x="1688.5" y="108" font-size="10.3" fill="#fff" stroke="#fff" textLength="32" lengthAdjust="spacingAndGlyphs">1801.97</text>
<rect x="1684" y="105" width="38" height="11" fill="#32CD32" shape-rendering="crispEdges"/>
<text x="1688.5" y="114" font-size="10.3" fill="#fff" stroke="#fff" textLength="32" lengthAdjust="spacingAndGlyphs">1800.00</text>
<rect x="1684" y="151" width="38" height="11" fill="#4169E1" shape-rendering="crispEdges"/>
<text x="1688.5" y="160" font-size="10.3" fill="#fff" stroke="#fff" textLength="32" lengthAdjust="spacingAndGlyphs">1785.00</text>
<rect x="1684" y="214" width="38" height="11" fill="#4169E1" shape-rendering="crispEdges"/>
<text x="1688.5" y="223" font-size="10.3" fill="#fff" stroke="#fff" textLength="32" lengthAdjust="spacingAndGlyphs">1765.00</text>
<rect x="1684" y="261" width="38" height="11" fill="#4169E1" shape-rendering="crispEdges"/>
<text x="1688.5" y="270" font-size="10.3" fill="#fff" stroke="#fff" textLength="32" lengthAdjust="spacingAndGlyphs">1750.00</text>
<path d="M5 37H12L8.5 41Z" fill="#000"/>
<text x="17" y="41.6" font-size="10.3" fill="#000" stroke="#000" textLength="204" lengthAdjust="spacingAndGlyphs" xml:space="preserve" style="white-space:pre">XAUUSD-,H4  1802.32 1802.45 1801.60 1801.97</text>
<g shape-rendering="crispEdges">
<rect x="2" y="601" width="1" height="25" fill="#C0C0C0"/>
<rect x="10" y="601" width="1" height="29" fill="#C0C0C0"/>
<rect x="18" y="601" width="1" height="34" fill="#C0C0C0"/>
<rect x="26" y="601" width="1" height="38" fill="#C0C0C0"/>
<rect x="34" y="601" width="1" height="44" fill="#C0C0C0"/>
<rect x="42" y="601" width="1" height="48" fill="#C0C0C0"/>
<rect x="50" y="601" width="1" height="44" fill="#C0C0C0"/>
<rect x="58" y="601" width="1" height="43" fill="#C0C0C0"/>
<rect x="66" y="601" width="1" height="39" fill="#C0C0C0"/>
<rect x="74" y="601" width="1" height="34" fill="#C0C0C0"/>
<rect x="82" y="601" width="1" height="28" fill="#C0C0C0"/>
<rect x="90" y="601" width="1" height="22" fill="#C0C0C0"/>
<rect x="98" y="601" width="1" height="19" fill="#C0C0C0"/>
<rect x="106" y="601" width="1" height="15" fill="#C0C0C0"/>
<rect x="114" y="601" width="1" height="13" fill="#C0C0C0"/>
<rect x="122" y="601" width="1" height="11" fill="#C0C0C0"/>
<rect x="130" y="601" width="1" height="5" fill="#C0C0C0"/>
<rect x="138" y="599" width="1" height="3" fill="#C0C0C0"/>
<rect x="146" y="595" width="1" height="7" fill="#C0C0C0"/>
<rect x="154" y="588" width="1" height="14" fill="#C0C0C0"/>
<rect x="162" y="583" width="1" height="19" fill="#C0C0C0"/>
<rect x="170" y="579" width="1" height="23" fill="#C0C0C0"/>
<rect x="178" y="578" width="1" height="24" fill="#C0C0C0"/>
<rect x="186" y="575" width="1" height="27" fill="#C0C0C0"/>
<rect x="194" y="574" width="1" height="28" fill="#C0C0C0"/>
<rect x="202" y="572" width="1" height="30" fill="#C0C0C0"/>
<rect x="210" y="572" width="1" height="30" fill="#C0C0C0"/>
<rect x="218" y="574" width="1" height="28" fill="#C0C0C0"/>
<rect x="226" y="576" width="1" height="26" fill="#C0C0C0"/>
<rect x="234" y="579" width="1" height="23" fill="#C0C0C0"/>
<rect x="242" y="584" width="1" height="18" fill="#C0C0C0"/>
<rect x="250" y="589" width="1" height="13" fill="#C0C0C0"/>
<rect x="258" y="594" width="1" height="8" fill="#C0C0C0"/>
<rect x="266" y="600" width="1" height="2" fill="#C0C0C0"/>
<rect x="274" y="601" width="1" height="1" fill="#C0C0C0"/>
<rect x="282" y="601" width="1" height="16" fill="#C0C0C0"/>
<rect x="290" y="601" width="1" height="27" fill="#C0C0C0"/>
<rect x="298" y="601" width="1" height="35" fill="#C0C0C0"/>
<rect x="306" y="601" width="1" height="39" fill="#C0C0C0"/>
<rect x="314" y="601" width="1" height="43" fill="#C0C0C0"/>
<rect x="322" y="601" width="1" height="42" fill="#C0C0C0"/>
<rect x="330" y="601" width="1" height="38" fill="#C0C0C0"/>
<rect x="338" y="601" width="1" height="34" fill="#C0C0C0"/>
<rect x="346" y="601" width="1" height="31" fill="#C0C0C0"/>
<rect x="354" y="601" width="1" height="31" fill="#C0C0C0"/>
<rect x="362" y="601" width="1" height="30" fill="#C0C0C0"/>
<rect x="370" y="601" width="1" height="31" fill="#C0C0C0"/>
<rect x="378" y="601" width="1" height="44" fill="#C0C0C0"/>
<rect x="386" y="601" width="1" height="52" fill="#C0C0C0"/>
<rect x="394" y="601" width="1" height="58" fill="#C0C0C0"/>
<rect x="402" y="601" width="1" height="59" fill="#C0C0C0"/>
<rect x="410" y="601" width="1" height="56" fill="#C0C0C0"/>
<rect x="418" y="601" width="1" height="54" fill="#C0C0C0"/>
<rect x="426" y="601" width="1" height="53" fill="#C0C0C0"/>
<rect x="434" y="601" width="1" height="47" fill="#C0C0C0"/>
<rect x="442" y="601" width="1" height="43" fill="#C0C0C0"/>
<rect x="450" y="601" width="1" height="40" fill="#C0C0C0"/>
<rect x="458" y="601" width="1" height="34" fill="#C0C0C0"/>
<rect x="466" y="601" width="1" height="27" fill="#C0C0C0"/>
<rect x="474" y="601" width="1" height="16" fill="#C0C0C0"/>
<rect x="482" y="601" width="1" height="9" fill="#C0C0C0"/>
<rect x="490" y="601" width="1" height="3" fill="#C0C0C0"/>
<rect x="498" y="600" width="1" height="2" fill="#C0C0C0"/>
<rect x="506" y="595" width="1" height="7" fill="#C0C0C0"/>
<rect x="514" y="588" width="1" height="14" fill="#C0C0C0"/>
<rect x="522" y="586" width="1" height="16" fill="#C0C0C0"/>
<rect x="530" y="574" width="1" height="28" fill="#C0C0C0"/>
<rect x="538" y="567" width="1" height="35" fill="#C0C0C0"/>
<rect x="546" y="563" width="1" height="39" fill="#C0C0C0"/>
<rect x="554" y="559" width="1" height="43" fill="#C0C0C0"/>
<rect x="562" y="560" width="1" height="42" fill="#C0C0C0"/>
<rect x="570" y="557" width="1" height="45" fill="#C0C0C0"/>
<rect x="578" y="559" width="1" height="43" fill="#C0C0C0"/>
<rect x="586" y="562" width="1" height="40" fill="#C0C0C0"/>
<rect x="594" y="565" width="1" height="37" fill="#C0C0C0"/>
<rect x="602" y="565" width="1" height="37" fill="#C0C0C0"/>
<rect x="610" y="563" width="1" height="39" fill="#C0C0C0"/>
<rect x="618" y="563" width="1" height="39" fill="#C0C0C0"/>
<rect x="626" y="565" width="1" height="37" fill="#C0C0C0"/>
<rect x="634" y="566" width="1" height="36" fill="#C0C0C0"/>
<rect x="642" y="569" width="1" height="33" fill="#C0C0C0"/>
<rect x="650" y="576" width="1" height="26" fill="#C0C0C0"/>
<rect x="658" y="586" width="1" height="16" fill="#C0C0C0"/>
<rect x="666" y="590" width="1" height="12" fill="#C0C0C0"/>
<rect x="674" y="590" width="1" height="12" fill="#C0C0C0"/>
<rect x="682" y="592" width="1" height="10" fill="#C0C0C0"/>
<rect x="690" y="591" width="1" height="11" fill="#C0C0C0"/>
<rect x="698" y="591" width="1" height="11" fill="#C0C0C0"/>
<rect x="706" y="591" width="1" height="11" fill="#C0C0C0"/>
<rect x="714" y="592" width="1" height="10" fill="#C0C0C0"/>
<rect x="722" y="593" width="1" height="9" fill="#C0C0C0"/>
<rect x="730" y="593" width="1" height="9" fill="#C0C0C0"/>
<rect x="738" y="594" width="1" height="8" fill="#C0C0C0"/>
<rect x="746" y="596" width="1" height="6" fill="#C0C0C0"/>
<rect x="754" y="600" width="1" height="2" fill="#C0C0C0"/>
<rect x="762" y="600" width="1" height="2" fill="#C0C0C0"/>
<rect x="770" y="598" width="1" height="4" fill="#C0C0C0"/>
<rect x="778" y="598" width="1" height="4" fill="#C0C0C0"/>
<rect x="786" y="598" width="1" height="4" fill="#C0C0C0"/>
<rect x="794" y="597" width="1" height="5" fill="#C0C0C0"/>
<rect x="802" y="600" width="1" height="2" fill="#C0C0C0"/>
<rect x="810" y="601" width="1" height="1" fill="#C0C0C0"/>
<rect x="818" y="601" width="1" height="1" fill="#C0C0C0"/>
<rect x="826" y="601" width="1" height="1" fill="#C0C0C0"/>
<rect x="834" y="601" width="1" height="1" fill="#C0C0C0"/>
<rect x="842" y="600" width="1" height="2" fill="#C0C0C0"/>
<rect x="850" y="596" width="1" height="6" fill="#C0C0C0"/>
<rect x="858" y="588" width="1" height="14" fill="#C0C0C0"/>
<rect x="866" y="583" width="1" height="19" fill="#C0C0C0"/>
<rect x="874" y="576" width="1" height="26" fill="#C0C0C0"/>
<rect x="882" y="569" width="1" height="33" fill="#C0C0C0"/>
<rect x="890" y="567" width="1" height="35" fill="#C0C0C0"/>
<rect x="898" y="565" width="1" height="37" fill="#C0C0C0"/>
<rect x="906" y="559" width="1" height="43" fill="#C0C0C0"/>
<rect x="914" y="556" width="1" height="46" fill="#C0C0C0"/>
<rect x="922" y="554" width="1" height="48" fill="#C0C0C0"/>
<rect x="930" y="555" width="1" height="47" fill="#C0C0C0"/>
<rect x="938" y="555" width="1" height="47" fill="#C0C0C0"/>
<rect x="946" y="554" width="1" height="48" fill="#C0C0C0"/>
<rect x="954" y="549" width="1" height="53" fill="#C0C0C0"/>
<rect x="962" y="545" width="1" height="57" fill="#C0C0C0"/>
<rect x="970" y="542" width="1" height="60" fill="#C0C0C0"/>
<rect x="978" y="541" width="1" height="61" fill="#C0C0C0"/>
<rect x="986" y="541" width="1" height="61" fill="#C0C0C0"/>
<rect x="994" y="537" width="1" height="65" fill="#C0C0C0"/>
<rect x="1002" y="540" width="1" height="62" fill="#C0C0C0"/>
<rect x="1010" y="544" width="1" height="58" fill="#C0C0C0"/>
<rect x="1018" y="549" width="1" height="53" fill="#C0C0C0"/>
<rect x="1026" y="553" width="1" height="49" fill="#C0C0C0"/>
<rect x="1034" y="555" width="1" height="47" fill="#C0C0C0"/>
<rect x="1042" y="561" width="1" height="41" fill="#C0C0C0"/>
<rect x="1050" y="565" width="1" height="37" fill="#C0C0C0"/>
<rect x="1058" y="568" width="1" height="34" fill="#C0C0C0"/>
<rect x="1066" y="569" width="1" height="33" fill="#C0C0C0"/>
<rect x="1074" y="573" width="1" height="29" fill="#C0C0C0"/>
<rect x="1082" y="575" width="1" height="27" fill="#C0C0C0"/>
<rect x="1090" y="577" width="1" height="25" fill="#C0C0C0"/>
<rect x="1098" y="577" width="1" height="25" fill="#C0C0C0"/>
<rect x="1106" y="577" width="1" height="25" fill="#C0C0C0"/>
<rect x="1114" y="576" width="1" height="26" fill="#C0C0C0"/>
<rect x="1122" y="574" width="1" height="28" fill="#C0C0C0"/>
<rect x="1130" y="574" width="1" height="28" fill="#C0C0C0"/>
<rect x="1138" y="574" width="1" height="28" fill="#C0C0C0"/>
<rect x="1146" y="576" width="1" height="26" fill="#C0C0C0"/>
<rect x="1154" y="576" width="1" height="26" fill="#C0C0C0"/>
<rect x="1162" y="574" width="1" height="28" fill="#C0C0C0"/>
<rect x="1170" y="577" width="1" height="25" fill="#C0C0C0"/>
<rect x="1178" y="576" width="1" height="26" fill="#C0C0C0"/>
<rect x="1186" y="580" width="1" height="22" fill="#C0C0C0"/>
<rect x="1194" y="576" width="1" height="26" fill="#C0C0C0"/>
<rect x="1202" y="573" width="1" height="29" fill="#C0C0C0"/>
<rect x="1210" y="571" width="1" height="31" fill="#C0C0C0"/>
<rect x="1218" y="568" width="1" height="34" fill="#C0C0C0"/>
<rect x="1226" y="565" width="1" height="37" fill="#C0C0C0"/>
<rect x="1234" y="566" width="1" height="36" fill="#C0C0C0"/>
<rect x="1242" y="574" width="1" height="28" fill="#C0C0C0"/>
<rect x="1250" y="578" width="1" height="24" fill="#C0C0C0"/>
<rect x="1258" y="584" width="1" height="18" fill="#C0C0C0"/>
<rect x="1266" y="588" width="1" height="14" fill="#C0C0C0"/>
<rect x="1274" y="591" width="1" height="11" fill="#C0C0C0"/>
<rect x="1282" y="592" width="1" height="10" fill="#C0C0C0"/>
<rect x="1290" y="591" width="1" height="11" fill="#C0C0C0"/>
<rect x="1298" y="590" width="1" height="12" fill="#C0C0C0"/>
<rect x="1306" y="591" width="1" height="11" fill="#C0C0C0"/>
<rect x="1314" y="591" width="1" height="11" fill="#C0C0C0"/>
<rect x="1322" y="591" width="1" height="11" fill="#C0C0C0"/>
<rect x="1330" y="592" width="1" height="10" fill="#C0C0C0"/>
<rect x="1338" y="592" width="1" height="10" fill="#C0C0C0"/>
<rect x="1346" y="593" width="1" height="9" fill="#C0C0C0"/>
<rect x="1354" y="593" width="1" height="9" fill="#C0C0C0"/>
<rect x="1362" y="595" width="1" height="7" fill="#C0C0C0"/>
<rect x="1370" y="595" width="1" height="7" fill="#C0C0C0"/>
<rect x="1378" y="592" width="1" height="10" fill="#C0C0C0"/>
<rect x="1386" y="590" width="1" height="12" fill="#C0C0C0"/>
<rect x="1394" y="586" width="1" height="16" fill="#C0C0C0"/>
<rect x="1402" y="584" width="1" height="18" fill="#C0C0C0"/>
<rect x="1410" y="583" width="1" height="19" fill="#C0C0C0"/>
<rect x="1418" y="584" width="1" height="18" fill="#C0C0C0"/>
<rect x="1426" y="587" width="1" height="15" fill="#C0C0C0"/>
<rect x="1434" y="580" width="1" height="22" fill="#C0C0C0"/>
<rect x="1442" y="575" width="1" height="27" fill="#C0C0C0"/>
<rect x="1450" y="572" width="1" height="30" fill="#C0C0C0"/>
<rect x="1458" y="570" width="1" height="32" fill="#C0C0C0"/>
<rect x="1466" y="568" width="1" height="34" fill="#C0C0C0"/>
<rect x="1474" y="563" width="1" height="39" fill="#C0C0C0"/>
<rect x="1482" y="556" width="1" height="46" fill="#C0C0C0"/>
<rect x="1490" y="552" width="1" height="50" fill="#C0C0C0"/>
<rect x="1498" y="550" width="1" height="52" fill="#C0C0C0"/>
<rect x="1506" y="549" width="1" height="53" fill="#C0C0C0"/>
<rect x="1514" y="547" width="1" height="55" fill="#C0C0C0"/>
<rect x="1522" y="548" width="1" height="54" fill="#C0C0C0"/>
<rect x="1530" y="553" width="1" height="49" fill="#C0C0C0"/>
<rect x="1538" y="556" width="1" height="46" fill="#C0C0C0"/>
<rect x="1546" y="559" width="1" height="43" fill="#C0C0C0"/>
<rect x="1554" y="563" width="1" height="39" fill="#C0C0C0"/>
<rect x="1562" y="567" width="1" height="35" fill="#C0C0C0"/>
<rect x="1570" y="568" width="1" height="34" fill="#C0C0C0"/>
<rect x="1578" y="573" width="1" height="29" fill="#C0C0C0"/>
<rect x="1586" y="576" width="1" height="26" fill="#C0C0C0"/>
<rect x="1594" y="579" width="1" height="23" fill="#C0C0C0"/>
<rect x="1602" y="580" width="1" height="22" fill="#C0C0C0"/>
<rect x="1610" y="580" width="1" height="22" fill="#C0C0C0"/>
<rect x="1618" y="578" width="1" height="24" fill="#C0C0C0"/>
<rect x="1626" y="578" width="1" height="24" fill="#C0C0C0"/>
<rect x="1634" y="581" width="1" height="21" fill="#C0C0C0"/>
<rect x="1642" y="583" width="1" height="19" fill="#C0C0C0"/>
<rect x="1650" y="585" width="1" height="17" fill="#C0C0C0"/>
<rect x="1658" y="587" width="1" height="15" fill="#C0C0C0"/>
</g>
<polyline points="2.5,616.7 10.0,618.5 25.0,622.5 35.0,627.2 45.0,631.2 57.5,637.2 67.5,639.7 80.0,640.5 92.5,638.7 100.0,636.7 110.0,630.0 122.5,626.2 135.0,620.0 147.5,611.7 160.0,604.7 170.0,600.0 177.5,595.0 190.0,588.0 202.5,581.7 212.5,579.2 222.5,576.0 235.0,574.5 247.5,576.0 260.0,579.2 270.0,582.5 280.0,587.5 290.0,596.0 300.0,603.7 310.0,612.2 322.5,623.0 332.5,629.2 345.0,635.0 355.0,637.2 370.0,636.7 380.0,637.5 390.0,638.7 400.0,641.7 412.5,643.7 422.5,648.0 430.0,651.5 442.5,653.5 455.0,652.2 467.5,646.7 480.0,639.2 492.5,629.2 505.0,620.5 517.5,610.5 530.0,600.5 542.5,589.2 555.0,580.5 567.5,573.0 580.0,566.7 592.5,562.5 605.0,561.0 617.5,560.5 630.0,561.7 642.5,563.5 655.0,567.2 667.5,571.0 680.0,575.5 692.5,580.5 705.0,585.5 717.5,589.7 730.0,590.5 742.5,591.7 755.0,592.5 767.5,594.2 780.0,595.5 792.5,596.2 805.0,597.5 817.5,598.7 830.0,598.7 842.5,599.7 855.0,598.0 860.0,597.5 872.5,594.2 885.0,588.0 897.5,582.5 905.0,578.7 915.0,571.7 927.5,566.0 940.0,561.0 952.5,556.2 962.5,555.0 972.5,551.0 985.0,548.0 995.0,545.0 1007.5,543.5 1017.5,542.5 1027.5,542.5 1040.0,545.5 1050.0,548.5 1060.0,551.7 1072.5,558.5 1085.0,563.0 1097.5,567.5 1110.0,571.0 1122.5,573.7 1135.0,574.5 1147.5,575.5 1160.0,574.7 1185.0,575.5 1210.0,574.7 1222.5,574.2 1230.0,571.7 1247.5,571.7 1265.0,573.0 1275.0,575.5 1282.5,578.7 1290.0,581.5 1297.5,581.7 1305.0,586.0 1320.0,589.2 1335.0,590.5 1355.0,590.5 1365.0,591.7 1385.0,592.5 1395.0,591.2 1410.0,589.7 1425.0,588.0 1440.0,585.5 1450.0,581.7 1460.0,578.7 1470.0,576.0 1480.0,573.7 1490.0,568.7 1500.0,564.2 1510.0,561.0 1520.0,556.7 1530.0,553.5 1540.0,552.2 1550.0,551.2 1560.0,553.5 1570.0,556.0 1580.0,558.5 1590.0,563.5 1600.0,567.5 1610.0,570.5 1620.0,573.7 1630.0,575.5 1640.0,577.2 1650.0,579.7 1656.0,579.7" fill="none" stroke="#FF0000" stroke-width="1" shape-rendering="crispEdges" stroke-dasharray="3 3"/>
<text x="6" y="540.7" font-size="10.3" fill="#000" stroke="#000" textLength="118" lengthAdjust="spacingAndGlyphs">MACD(12,26,9) 2.515 3.449</text>
<text x="1686.5" y="539" font-size="10.3" fill="#000" stroke="#000" textLength="27.5" lengthAdjust="spacingAndGlyphs">11.848</text>
<text x="1685.8" y="605" font-size="10.3" fill="#000" stroke="#000" textLength="18.6" lengthAdjust="spacingAndGlyphs">0.00</text>
<text x="1686" y="664" font-size="10.3" fill="#000" stroke="#000" textLength="30.7" lengthAdjust="spacingAndGlyphs">-10.808</text>
<g shape-rendering="crispEdges" stroke="#C0C0C0" stroke-width="1" stroke-dasharray="3 3">
<path d="M3 700.5H1682"/>
<path d="M3 740.5H1682"/>
</g>
<polyline points="2.5,737.5 10.0,736.7 17.5,739.5 26.0,739.5 35.0,743.2 42.5,743.2 50.0,728.7 58.0,730.5 66.0,726.2 75.0,722.5 82.5,720.5 90.5,717.5 98.7,721.2 107.0,719.2 115.0,721.2 122.5,721.2 130.5,712.5 138.7,708.2 146.7,712.0 155.0,706.2 162.5,707.5 170.5,706.2 178.7,713.2 187.0,708.7 195.0,709.5 202.5,708.2 210.0,710.0 218.7,715.0 226.7,711.2 235.0,722.5 242.5,723.7 250.7,725.5 258.7,726.2 267.0,730.5 275.0,728.2 282.5,742.0 290.0,743.7 298.7,740.7 306.2,737.5 314.5,737.5 322.5,731.2 330.7,725.0 338.7,723.2 346.7,726.2 355.0,729.5 362.5,728.2 370.7,731.2 378.7,745.5 386.7,740.0 394.5,741.5 402.5,735.0 411.2,729.5 420.0,731.7 426.2,731.7 430.5,729.2 435.0,725.5 442.5,726.7 450.0,727.5 458.7,720.5 467.0,716.7 475.0,712.0 482.5,712.0 491.2,714.5 498.7,713.0 506.2,711.2 514.5,707.5 522.5,713.2 530.7,702.5 538.7,705.5 546.2,708.7 554.2,706.7 562.5,713.2 570.0,709.5 578.7,714.5 586.2,715.7 593.7,716.7 602.5,711.7 610.0,710.5 617.5,712.0 626.2,713.2 635.0,713.7 642.5,716.7 650.5,723.0 658.7,729.5 666.7,722.5 674.5,718.2 682.5,720.5 691.2,717.5 698.7,718.7 706.2,717.5 715.0,720.5 722.5,719.2 731.2,719.2 740.0,719.2 747.0,721.2 755.0,728.7 763.2,720.0 771.2,716.2 778.7,718.2 786.2,719.5 794.5,718.2 803.2,724.5 811.2,723.2 818.7,721.7 826.7,722.5 835.0,719.5 842.5,713.7 851.2,711.2 860.0,704.5 866.2,706.7 873.7,700.5 882.0,699.2 890.5,707.5 898.0,706.2 906.2,700.5 913.7,703.2 922.5,703.7 930.7,708.2 938.7,705.5 947.0,704.2 955.0,698.7 962.5,697.0 970.0,699.2 978.7,700.5 987.5,698.7 995.0,694.5 1002.5,708.2 1010.7,710.0 1018.7,713.2 1026.2,712.5 1034.2,710.5 1043.0,717.5 1051.2,716.2 1058.7,714.5 1066.2,712.0 1075.5,718.2 1082.5,715.7 1090.0,716.7 1098.0,712.5 1106.2,711.2 1113.7,708.7 1121.7,707.5 1132.0,712.5 1140.0,711.2 1147.5,710.5 1155.0,709.5 1162.5,708.2 1171.2,712.5 1178.7,709.5 1186.7,720.5 1195.0,705.0 1202.5,708.2 1210.0,706.2 1218.7,706.2 1226.7,703.2 1235.0,711.2 1242.5,724.5 1250.7,720.5 1258.7,723.7 1267.5,722.5 1275.0,722.5 1282.5,719.5 1290.0,714.7 1297.5,717.5 1342.5,717.5 1346.2,718.2 1353.7,717.5 1362.5,722.5 1371.2,717.5 1380.0,713.0 1386.2,708.7 1394.5,705.0 1402.5,707.5 1410.7,709.5 1418.7,715.0 1426.7,719.2 1434.5,703.2 1442.5,702.5 1451.2,706.2 1458.7,706.2 1467.5,703.7 1475.0,698.7 1482.5,695.0 1490.0,698.0 1498.7,699.5 1506.2,698.0 1514.2,696.2 1522.5,704.5 1531.2,713.2 1538.7,711.2 1547.5,711.2 1555.0,714.5 1562.5,716.7 1570.5,710.5 1579.2,720.5 1587.5,718.2 1595.0,717.5 1602.5,714.5 1610.7,713.2 1618.7,709.2 1626.2,711.2 1635.0,718.2 1658.2,718.2" fill="none" stroke="#1E90FF" stroke-width="1" shape-rendering="crispEdges" />
<text x="6" y="681.5" font-size="10.3" fill="#000" stroke="#000" textLength="68" lengthAdjust="spacingAndGlyphs">RSI(14) 52.4875</text>
<text x="1686.5" y="680" font-size="10.3" fill="#000" stroke="#000" textLength="14.5" lengthAdjust="spacingAndGlyphs">100</text>
<text x="1685.2" y="703.6" font-size="10.3" fill="#000" stroke="#000" textLength="9.5" lengthAdjust="spacingAndGlyphs">70</text>
<text x="1685.2" y="743.6" font-size="10.3" fill="#000" stroke="#000" textLength="9.5" lengthAdjust="spacingAndGlyphs">30</text>
<text x="1685.7" y="768" font-size="10.3" fill="#000" stroke="#000" textLength="5.6" lengthAdjust="spacingAndGlyphs">0</text>
<g shape-rendering="crispEdges">
<rect x="2" y="772" width="1" height="3" fill="#000"/>
<rect x="66" y="772" width="1" height="3" fill="#000"/>
<rect x="130" y="772" width="1" height="3" fill="#000"/>
<rect x="194" y="772" width="1" height="3" fill="#000"/>
<rect x="258" y="772" width="1" height="3" fill="#000"/>
<rect x="322" y="772" width="1" height="3" fill="#000"/>
<rect x="386" y="772" width="1" height="3" fill="#000"/>
<rect x="450" y="772" width="1" height="3" fill="#000"/>
<rect x="514" y="772" width="1" height="3" fill="#000"/>
<rect x="578" y="772" width="1" height="3" fill="#000"/>
<rect x="642" y="772" width="1" height="3" fill="#000"/>
<rect x="706" y="772" width="1" height="3" fill="#000"/>
<rect x="770" y="772" width="1" height="3" fill="#000"/>
<rect x="834" y="772" width="1" height="3" fill="#000"/>
<rect x="898" y="772" width="1" height="3" fill="#000"/>
<rect x="962" y="772" width="1" height="3" fill="#000"/>
<rect x="1026" y="772" width="1" height="3" fill="#000"/>
<rect x="1090" y="772" width="1" height="3" fill="#000"/>
<rect x="1154" y="772" width="1" height="3" fill="#000"/>
<rect x="1218" y="772" width="1" height="3" fill="#000"/>
<rect x="1282" y="772" width="1" height="3" fill="#000"/>
<rect x="1346" y="772" width="1" height="3" fill="#000"/>
<rect x="1410" y="772" width="1" height="3" fill="#000"/>
<rect x="1474" y="772" width="1" height="3" fill="#000"/>
<rect x="1538" y="772" width="1" height="3" fill="#000"/>
<rect x="1602" y="772" width="1" height="3" fill="#000"/>
</g>
<text x="1" y="784" font-size="10.3" fill="#000" stroke="#000" textLength="55" lengthAdjust="spacingAndGlyphs">26 May 2020</text>
<text x="65" y="784" font-size="10.3" fill="#000" stroke="#000" textLength="58" lengthAdjust="spacingAndGlyphs">28 May 00:00</text>
<text x="129" y="784" font-size="10.3" fill="#000" stroke="#000" textLength="58" lengthAdjust="spacingAndGlyphs">29 May 08:00</text>
<text x="193" y="784" font-size="10.3" fill="#000" stroke="#000" textLength="50" lengthAdjust="spacingAndGlyphs">1 Jun 16:00</text>
<text x="257" y="784" font-size="10.3" fill="#000" stroke="#000" textLength="50" lengthAdjust="spacingAndGlyphs">3 Jun 00:00</text>
<text x="321" y="784" font-size="10.3" fill="#000" stroke="#000" textLength="50" lengthAdjust="spacingAndGlyphs">4 Jun 08:00</text>
<text x="385" y="784" font-size="10.3" fill="#000" stroke="#000" textLength="50" lengthAdjust="spacingAndGlyphs">5 Jun 16:00</text>
<text x="449" y="784" font-size="10.3" fill="#000" stroke="#000" textLength="50" lengthAdjust="spacingAndGlyphs">9 Jun 00:00</text>
<text x="513" y="784" font-size="10.3" fill="#000" stroke="#000" textLength="55" lengthAdjust="spacingAndGlyphs">10 Jun 08:00</text>
<text x="577" y="784" font-size="10.3" fill="#000" stroke="#000" textLength="55" lengthAdjust="spacingAndGlyphs">11 Jun 16:00</text>
<text x="641" y="784" font-size="10.3" fill="#000" stroke="#000" textLength="55" lengthAdjust="spacingAndGlyphs">15 Jun 00:00</text>
<text x="705" y="784" font-size="10.3" fill="#000" stroke="#000" textLength="55" lengthAdjust="spacingAndGlyphs">16 Jun 08:00</text>
<text x="769" y="784" font-size="10.3" fill="#000" stroke="#000" textLength="55" lengthAdjust="spacingAndGlyphs">17 Jun 16:00</text>
<text x="833" y="784" font-size="10.3" fill="#000" stroke="#000" textLength="55" lengthAdjust="spacingAndGlyphs">19 Jun 00:00</text>
<text x="897" y="784" font-size="10.3" fill="#000" stroke="#000" textLength="55" lengthAdjust="spacingAndGlyphs">22 Jun 08:00</text>
<text x="961" y="784" font-size="10.3" fill="#000" stroke="#000" textLength="55" lengthAdjust="spacingAndGlyphs">23 Jun 16:00</text>
<text x="1025" y="784" font-size="10.3" fill="#000" stroke="#000" textLength="55" lengthAdjust="spacingAndGlyphs">25 Jun 00:00</text>
<text x="1089" y="784" font-size="10.3" fill="#000" stroke="#000" textLength="55" lengthAdjust="spacingAndGlyphs">26 Jun 08:00</text>
<text x="1153" y="784" font-size="10.3" fill="#000" stroke="#000" textLength="55" lengthAdjust="spacingAndGlyphs">29 Jun 16:00</text>
<text x="1217" y="784" font-size="10.3" fill="#000" stroke="#000" textLength="47" lengthAdjust="spacingAndGlyphs">1 Jul 00:00</text>
<text x="1281" y="784" font-size="10.3" fill="#000" stroke="#000" textLength="47" lengthAdjust="spacingAndGlyphs">2 Jul 08:00</text>
<text x="1345" y="784" font-size="10.3" fill="#000" stroke="#000" textLength="47" lengthAdjust="spacingAndGlyphs">3 Jul 16:00</text>
<text x="1409" y="784" font-size="10.3" fill="#000" stroke="#000" textLength="47" lengthAdjust="spacingAndGlyphs">7 Jul 00:00</text>
<text x="1473" y="784" font-size="10.3" fill="#000" stroke="#000" textLength="47" lengthAdjust="spacingAndGlyphs">8 Jul 08:00</text>
<text x="1537" y="784" font-size="10.3" fill="#000" stroke="#000" textLength="47" lengthAdjust="spacingAndGlyphs">9 Jul 16:00</text>
<text x="1601" y="784" font-size="10.3" fill="#000" stroke="#000" textLength="52" lengthAdjust="spacingAndGlyphs">13 Jul 00:00</text>
<text x="1296.5" y="408.1" font-size="36" fill="#ED1C24" textLength="180" lengthAdjust="spacingAndGlyphs" style="font-family:'Liberation Sans','Noto Sans CJK SC',sans-serif">多空转折点</text>
<text x="1475.7" y="408.1" font-size="39" fill="#ED1C24" textLength="21.7" lengthAdjust="spacingAndGlyphs">1</text>
<text x="1497.4" y="408.1" font-size="39" fill="#ED1C24" textLength="63.6" lengthAdjust="spacingAndGlyphs">800</text>
</svg>
</body></html>
